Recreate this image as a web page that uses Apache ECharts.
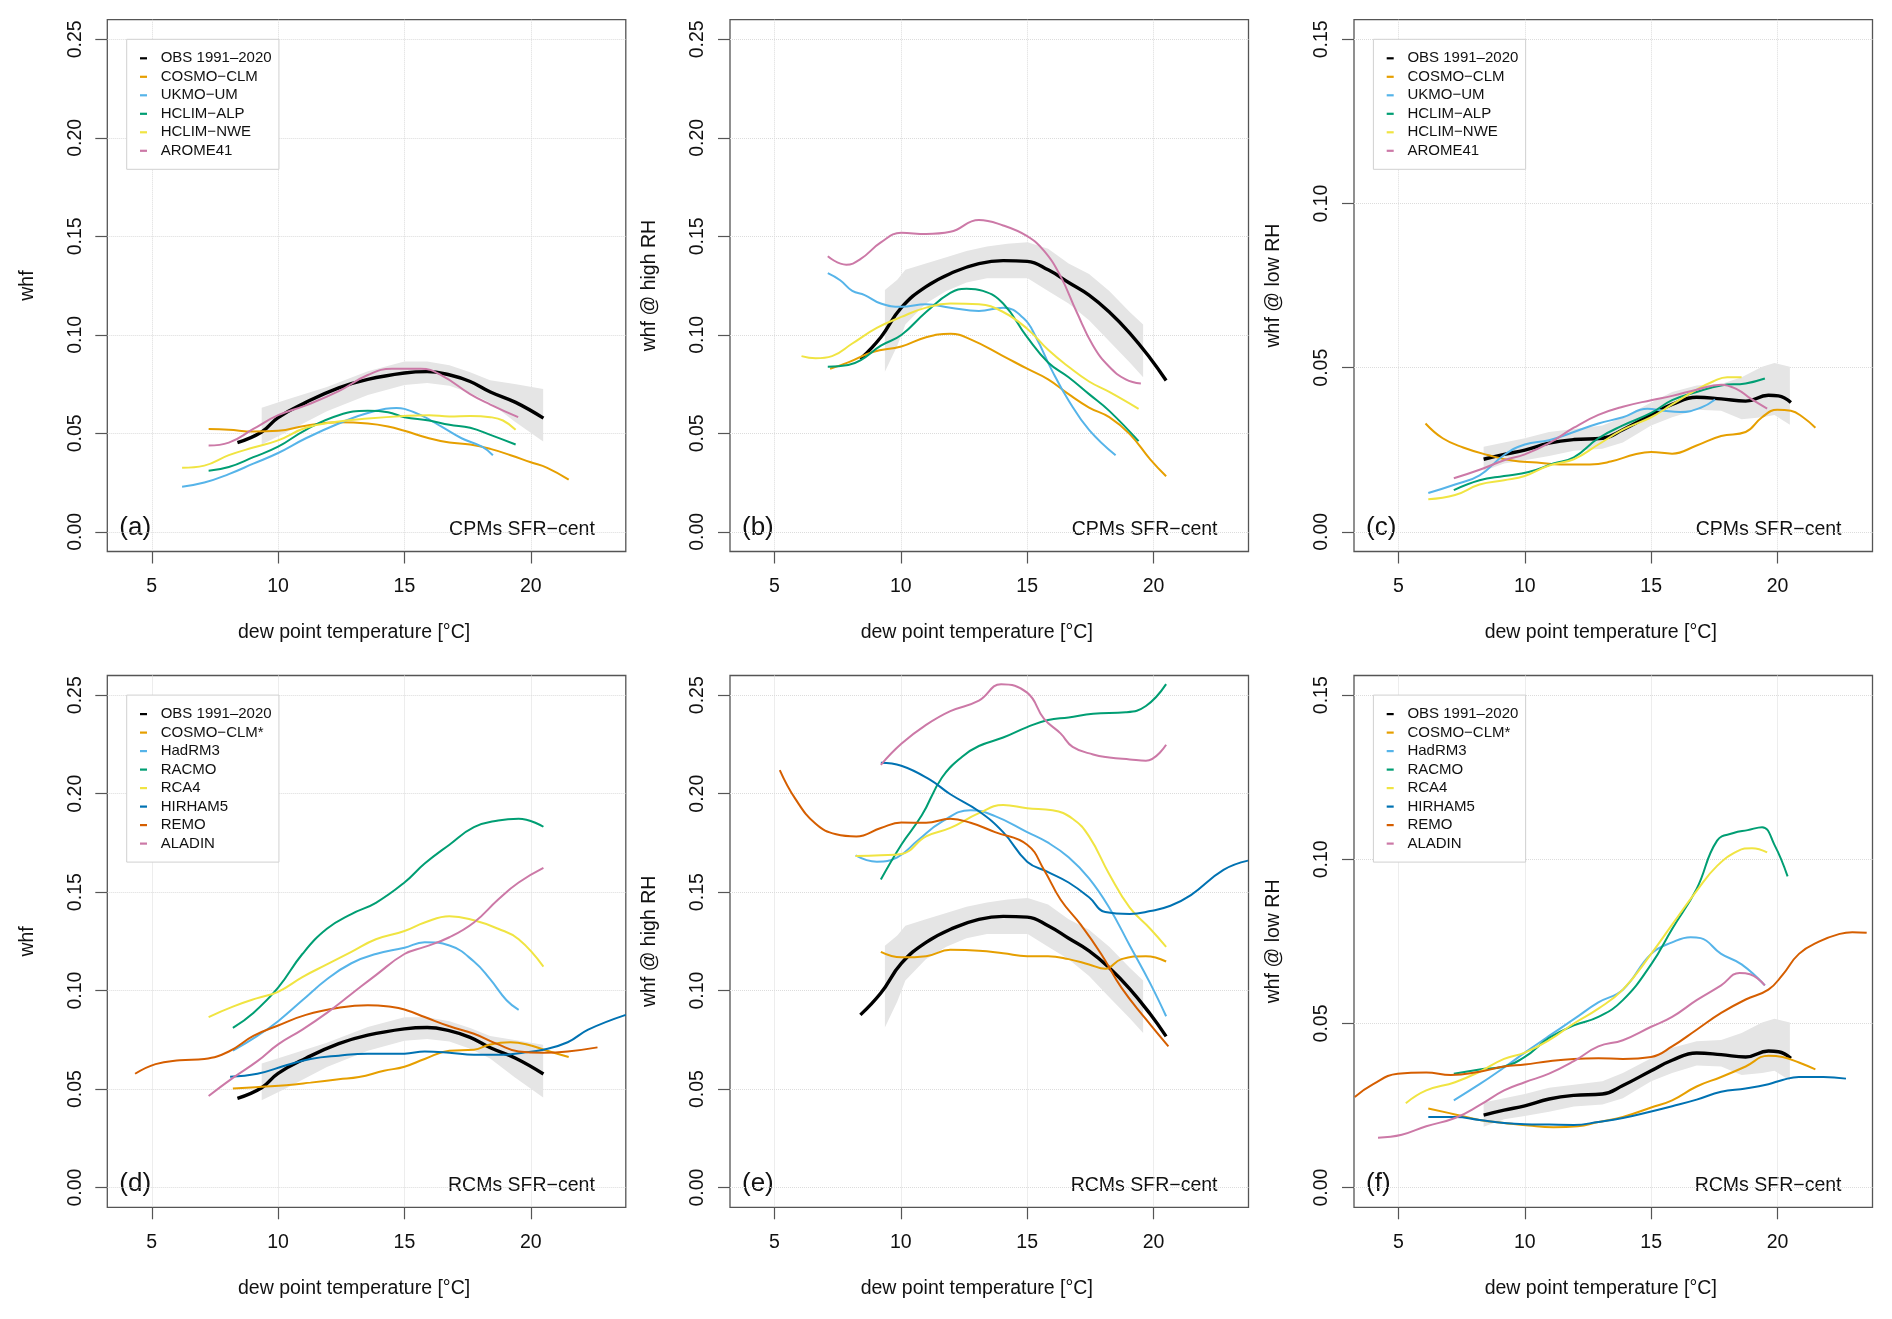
<!DOCTYPE html>
<html>
<head>
<meta charset="utf-8">
<script src="https://cdn.jsdelivr.net/npm/echarts@6/dist/echarts.min.js"></script>
<style>html,body{margin:0;padding:0;background:#fff}#c{width:1892px;height:1319px}</style>
</head>
<body>
<div id="c"></div>
<script>
// ---------- tick labels ----------
const xTicks = [5, 10, 15, 20];
const yTicksWide = [0, 0.05, 0.10, 0.15, 0.20, 0.25];
const yTicksNarrow = [0, 0.05, 0.10, 0.15];

// ---------- legend names ----------
const obsName = 'OBS 1991\u20132020';
const cpmNames = ['COSMO\u2212CLM', 'UKMO\u2212UM', 'HCLIM\u2212ALP', 'HCLIM\u2212NWE', 'AROME41'];
const rcmNames = ['COSMO\u2212CLM*', 'HadRM3', 'RACMO', 'RCA4', 'HIRHAM5', 'REMO', 'ALADIN'];

// ---------- observations (whf, all) ----------
const obsAll = [[8.39,.0453],[9.35,.0507],[10,.058],[11.1,.0657],[12.4,.0731],[13.55,.0774],[15,.0806],[15.9,.0813],[16.8,.0796],[17.6,.0763],[18.4,.071],[19.4,.0657],[20.5,.0577]];
const bandAllUpper = [[9.35,.063],[10.32,.067],[11.93,.0735],[13.55,.0815],[15,.0865],[15.9,.0865],[16.78,.0845],[17.6,.081],[18.39,.077],[19.36,.075],[20.49,.0725]];
const bandAllLower = [[9.35,.0443],[10.32,.0505],[11.93,.0612],[13.55,.0695],[15,.0745],[15.9,.0755],[16.78,.0742],[17.6,.0705],[18.39,.0655],[19.36,.056],[20.49,.0458]];
// ---------- observations (whf @ high RH) ----------
const obsHigh = [[8.4,.0877],[9.21,.0988],[10.02,.1138],[11,.1245],[12.12,.132],[13.09,.1362],[14.05,.1377],[15,.1373],[15.83,.133],[16.64,.1266],[17.45,.1202],[18.25,.1116],[19.06,.1009],[19.87,.0881],[20.5,.0768]];
const bandHighUpper = [[9.37,.1228],[9.86,.128],[10.18,.133],[10.99,.1362],[11.8,.1394],[12.6,.1426],[13.41,.1448],[14.22,.1463],[15.02,.147],[15.83,.1437],[16.64,.1362],[17.45,.1309],[18.25,.1223],[19.06,.1116],[19.59,.1052]];
const bandHighLower = [[9.37,.0813],[9.86,.0945],[10.18,.1052],[10.99,.1159],[11.8,.1223],[12.6,.1266],[13.41,.1287],[14.22,.1287],[15.02,.1287],[15.83,.1223],[16.64,.1159],[17.45,.1074],[18.25,.0967],[19.06,.086],[19.59,.0785]];
// ---------- observations (whf @ low RH) ----------
const obsLow = [[8.37,.0221],[9.18,.0236],[10,.0249],[10.96,.027],[11.94,.0281],[13.07,.0285],[13.88,.0311],[15,.0356],[15.83,.0388],[16.8,.041],[17.77,.0405],[18.74,.0398],[19.64,.0416],[20.04,.0414],[20.53,.0394]];
const bandLowUpper = [[8.37,.0259],[9.18,.0272],[10,.0285],[10.96,.0304],[11.94,.0313],[13.07,.0324],[13.88,.0349],[15,.0394],[15.83,.0426],[16.8,.0446],[17.77,.045],[18.58,.0471],[19.39,.0503],[19.88,.0514],[20.49,.0503]];
const bandLowLower = [[8.37,.0185],[9.18,.0208],[10,.0218],[10.96,.0231],[11.94,.0247],[13.07,.0253],[13.88,.0272],[15,.0324],[15.83,.0349],[16.8,.0372],[17.77,.0369],[18.58,.0343],[19.39,.0349],[19.88,.0356],[20.49,.0326]];

// ---------- (a) CPMs, whf ----------
const aCosmo = [[7.25,.0522],[8.05,.0518],[9.02,.0509],[10,.0513],[11.1,.0539],[12.4,.0556],[13.55,.055],[14.35,.0535],[15,.0513],[15.97,.0475],[16.78,.0453],[17.6,.0443],[18.4,.0421],[19.2,.0389],[20,.0353],[20.65,.0325],[21.5,.0265]];
const aUkmo = [[6.2,.0229],[7.08,.025],[8.05,.0293],[9.02,.0346],[10,.04],[11.1,.0475],[12.4,.055],[13.55,.0603],[14.68,.0629],[15,.0624],[15.65,.0592],[16.45,.0535],[17.26,.0475],[18.07,.0432],[18.5,.0389]];
const aHclimAlp = [[7.25,.031],[8.05,.0329],[9.02,.0379],[10,.0432],[11.1,.0518],[12.4,.0592],[13.55,.0614],[14.35,.0607],[15,.0582],[15.97,.0565],[16.78,.0543],[17.6,.0528],[18.4,.0492],[19.4,.0443]];
const aHclimNwe = [[6.2,.0325],[7.08,.0336],[8.05,.0389],[9.02,.0428],[10,.0464],[11.1,.0528],[12.4,.056],[13.55,.0575],[15,.0588],[15.97,.0592],[16.78,.0586],[17.6,.0588],[18.4,.0582],[18.9,.0565],[19.4,.0518]];
const aArome = [[7.25,.0438],[8.05,.0453],[9.02,.0522],[10,.0592],[11.1,.0642],[12.4,.0714],[13.55,.0796],[14.5,.0828],[15.65,.0828],[16.45,.0796],[17.6,.0699],[18.4,.0646],[19.5,.0582]];

// ---------- (b) CPMs, whf @ high RH ----------
const bCosmo = [[7.2,.0828],[7.92,.086],[8.89,.0913],[10.02,.0941],[11,.0988],[11.96,.1005],[12.76,.0977],[14.05,.0892],[15,.0828],[15.83,.0774],[16.64,.0699],[17.45,.0631],[18.25,.0582],[19.06,.0496],[19.87,.0368],[20.5,.0282]];
const bUkmo = [[7.11,.1313],[7.6,.1277],[8.08,.1223],[8.57,.1202],[9.21,.1159],[10.02,.1142],[11,.1155],[11.96,.1138],[13.09,.1121],[14.05,.1138],[14.86,.1084],[15.35,.0988],[15.99,.0817],[16.64,.0667],[17.45,.0518],[18.5,.0389]];
const bHclimAlp = [[7.11,.0838],[7.92,.0847],[8.4,.087],[9.21,.0945],[10.02,.0999],[11,.1116],[11.96,.1213],[12.6,.1234],[13.25,.1223],[14.05,.1159],[15,.0988],[15.83,.086],[16.64,.0785],[17.45,.0699],[18.25,.0614],[19.41,.046]];
const bHclimNwe = [[6.07,.0892],[6.63,.0881],[7.28,.0892],[8.08,.0956],[9.05,.1035],[10.02,.1091],[11,.1138],[11.96,.1159],[13.09,.1155],[14.05,.1116],[15,.1031],[15.83,.0924],[16.64,.0838],[17.45,.0763],[18.25,.071],[19.41,.0624]];
const bArome = [[7.11,.1399],[7.84,.1356],[8.4,.1384],[9.21,.1469],[10.02,.1518],[11,.1512],[11.96,.1523],[13.09,.1583],[14.05,.1555],[15,.1501],[15.67,.1426],[16.32,.1298],[16.96,.1116],[17.61,.0945],[18.25,.0838],[18.9,.0774],[19.5,.0753]];

// ---------- (c) CPMs, whf @ low RH ----------
const cCosmo = [[6.07,.033],[6.75,.0285],[7.56,.0257],[8.53,.0234],[9.5,.0217],[10.48,.0211],[11.45,.0205],[12.58,.0205],[13.4,.0214],[14.37,.0236],[15,.0243],[15.83,.0238],[16.8,.0263],[17.77,.0292],[18.74,.0304],[19.39,.0349],[19.99,.0372],[20.53,.0369],[21.01,.0349],[21.5,.0317]];
const cUkmo = [[6.18,.0118],[7.24,.0144],[8.21,.0172],[9.18,.0234],[10,.0266],[10.96,.0279],[11.94,.0304],[12.91,.033],[13.88,.0349],[14.85,.0375],[15.5,.0369],[16.15,.0365],[16.96,.0378],[17.53,.0403]];
const cHclimAlp = [[7.19,.0127],[8.21,.0157],[9.18,.017],[10.15,.0182],[11.13,.0208],[11.94,.0227],[12.91,.0285],[13.88,.0324],[15,.0362],[15.83,.0401],[16.8,.0426],[17.77,.0446],[18.74,.0452],[19.5,.0467]];
const cHclimNwe = [[6.18,.0099],[7.24,.0112],[8.21,.0144],[9.18,.0157],[10,.017],[10.96,.0202],[11.94,.0221],[12.91,.0266],[13.88,.0311],[15,.0349],[15.83,.0388],[16.8,.0433],[17.45,.0458],[18.01,.0471],[18.58,.0471]];
const cArome = [[7.19,.0163],[8.21,.0189],[9.18,.0218],[10,.0236],[10.96,.027],[11.94,.0317],[12.91,.0356],[13.88,.0381],[15,.0401],[15.83,.0414],[16.8,.0433],[17.77,.0448],[18.42,.0433],[18.91,.0407],[19.59,.0375]];

// ---------- (d) RCMs, whf ----------
const dCosmo = [[8.21,.0503],[9.35,.0512],[10.32,.052],[11.28,.0533],[12.4,.055],[13.2,.0561],[14.19,.0593],[15,.0614],[15.8,.0653],[16.78,.0695],[17.75,.07],[18.39,.0727],[19.2,.0738],[19.85,.0727],[20.65,.0695],[21.5,.0663]];
const dHadrm = [[8.21,.0695],[9.18,.077],[10,.0845],[10.96,.0951],[11.93,.1058],[12.9,.1139],[13.87,.1186],[15,.1218],[15.8,.1246],[16.78,.1229],[17.75,.1148],[18.39,.1058],[19.04,.0951],[19.52,.0902]];
const dRacmo = [[8.21,.0811],[9.02,.0887],[10,.1015],[10.96,.1186],[11.93,.1314],[12.9,.1389],[13.87,.1446],[15,.1549],[15.8,.1645],[16.78,.1741],[17.75,.183],[18.71,.1864],[19.52,.1873],[20.5,.1832]];
const dRca4 = [[7.25,.0866],[8.21,.0919],[9.18,.0962],[10,.0994],[10.96,.1069],[11.93,.1133],[12.9,.1197],[13.87,.1261],[15,.1303],[15.8,.1346],[16.78,.1378],[17.75,.1357],[18.71,.1314],[19.52,.1261],[20.5,.1122]];
const dHirham = [[8.1,.0563],[9.18,.0578],[10.32,.0621],[11.28,.0653],[12.4,.067],[13.55,.068],[15,.068],[15.8,.0691],[16.78,.0685],[17.75,.0674],[18.71,.0674],[19.68,.0685],[20.5,.07],[21.46,.0738],[22.27,.0802],[23.76,.0877]];
const dRemo = [[4.34,.0578],[5.15,.0627],[6.11,.0646],[7.08,.0653],[8.05,.0691],[9.02,.077],[10,.0823],[11.1,.0877],[12.4,.0913],[13.55,.0926],[14.52,.0917],[15,.0904],[15.8,.0866],[16.78,.0819],[17.75,.0781],[18.71,.0727],[19.52,.0691],[20.5,.0685],[21.46,.0691],[22.64,.0712]];
const dAladin = [[7.25,.0465],[8.21,.0557],[9.18,.0642],[10,.0727],[10.96,.0802],[11.93,.0887],[12.9,.0983],[13.87,.1079],[15,.1186],[15.8,.1222],[16.78,.1271],[17.75,.1346],[18.71,.1463],[19.52,.1549],[20.5,.1623]];

// ---------- (e) RCMs, whf @ high RH ----------
const eCosmo = [[9.21,.1197],[10.02,.1169],[11,.1175],[11.96,.1207],[13.09,.1203],[14.05,.119],[15,.1175],[15.83,.1175],[16.64,.116],[17.45,.1133],[18.09,.1111],[18.73,.116],[19.7,.1175],[20.5,.1148]];
const eHadrm = [[8.21,.1687],[9.05,.1655],[9.86,.1677],[10.67,.1762],[11.63,.1858],[12.76,.1916],[13.73,.1886],[15,.1805],[15.83,.1751],[16.64,.1677],[17.45,.157],[18.25,.1421],[19.06,.1229],[19.87,.1037],[20.5,.087]];
const eRacmo = [[9.21,.1564],[10.02,.1741],[10.83,.189],[11.63,.2082],[12.44,.2189],[13.09,.2242],[14.05,.2285],[15,.2338],[15.83,.2374],[16.64,.2387],[17.61,.2406],[18.9,.2413],[19.7,.2445],[20.5,.2556]];
const eRca4 = [[8.21,.1683],[9.21,.1687],[10.02,.1694],[11,.1783],[11.96,.1826],[13.09,.1901],[14.05,.1943],[15,.1926],[16,.1916],[16.8,.1873],[17.45,.1783],[18.25,.1591],[19.06,.1421],[19.87,.1314],[20.5,.1222]];
const eHirham = [[9.21,.2157],[10.02,.2142],[11.15,.2071],[11.96,.1997],[13.09,.1911],[14.05,.1805],[15,.1655],[15.83,.1602],[16.64,.1549],[17.45,.1474],[18.09,.1399],[19.06,.1389],[19.87,.1404],[20.67,.1431],[21.48,.1485],[22.77,.1613],[23.74,.166]];
const eRemo = [[5.21,.212],[5.82,.1975],[6.63,.1847],[7.44,.1794],[8.24,.1783],[9.21,.1826],[10.02,.1854],[11,.1852],[11.96,.1873],[12.76,.1852],[13.73,.1805],[15,.1741],[15.67,.1613],[16.32,.1463],[17.12,.1335],[17.93,.1186],[18.73,.1015],[19.7,.0855],[20.59,.0717]];
const eAladin = [[9.21,.2146],[10.02,.2253],[11,.2349],[11.96,.2419],[13.09,.2472],[13.97,.2556],[15,.2513],[15.67,.238],[16.32,.2306],[16.8,.2238],[17.61,.2199],[18.25,.2184],[19.06,.2174],[19.7,.2167],[20.5,.2248]];

// ---------- (f) RCMs, whf @ low RH ----------
const fCosmo = [[6.18,.0241],[7.24,.0223],[8.21,.0206],[9.18,.0197],[10.15,.0189],[11.13,.0184],[12.1,.0187],[12.91,.02],[13.88,.0215],[15,.0244],[15.83,.0266],[16.8,.0308],[17.77,.0337],[18.74,.0369],[19.64,.0402],[20.2,.0398],[20.85,.0381],[21.5,.036]];
const fHadrm = [[7.19,.0266],[8.21,.0315],[9.18,.0366],[10,.0411],[10.96,.0462],[11.94,.0513],[12.91,.0564],[13.88,.0603],[15,.0712],[15.83,.0747],[16.56,.0763],[16.96,.076],[17.77,.0712],[18.58,.068],[19.5,.0616]];
const fRacmo = [[7.19,.0347],[8.21,.036],[9.18,.0369],[10,.0398],[10.96,.0456],[11.94,.0494],[12.91,.052],[13.88,.0571],[15,.068],[15.83,.0788],[16.8,.091],[17.61,.1057],[18.26,.108],[18.82,.1089],[19.39,.1098],[19.88,.1044],[20.4,.0948]];
const fRca4 = [[5.29,.0257],[6.1,.0296],[7.24,.0321],[8.21,.0353],[9.18,.0392],[10,.0411],[10.96,.0449],[11.94,.05],[12.91,.0545],[13.88,.0603],[15,.0712],[15.83,.0801],[16.8,.0904],[17.61,.098],[18.42,.1025],[18.99,.1034],[19.59,.1021]];
const fHirham = [[6.18,.0215],[7.24,.0215],[8.21,.0206],[9.18,.0197],[10,.0193],[10.96,.0192],[11.94,.0191],[12.91,.02],[13.88,.0212],[15,.0232],[15.83,.0248],[16.8,.0268],[17.77,.0292],[18.74,.0302],[19.64,.0315],[20.2,.0328],[20.85,.0337],[21.82,.0337],[22.71,.0332]];
const fRemo = [[3.27,.0276],[4,.0315],[4.97,.0347],[6.1,.0351],[7.07,.0343],[8.21,.0353],[9.18,.0369],[10,.0375],[10.96,.0385],[11.94,.0392],[12.91,.0394],[13.88,.0392],[15,.0398],[15.83,.043],[16.8,.0481],[17.77,.0532],[18.74,.0573],[19.64,.0603],[20.2,.0648],[20.85,.0712],[21.66,.075],[22.47,.0773],[22.96,.0778],[23.53,.0776]];
const fAladin = [[4.19,.0152],[5.13,.0161],[6.1,.0187],[7.24,.0212],[8.21,.0251],[9.18,.0296],[10,.0321],[10.96,.0347],[11.94,.0385],[12.91,.043],[13.88,.0449],[15,.049],[15.83,.052],[16.8,.0571],[17.77,.0616],[18.5,.0654],[18.91,.065],[19.5,.0616]];

// ---------- styling ----------
const FONT = 'Liberation Sans, Arial, Helvetica, sans-serif';
const cpmColors = ['#E69F00', '#56B4E9', '#009E73', '#F0E442', '#CC79A7'];
const rcmColors = ['#E69F00', '#56B4E9', '#009E73', '#F0E442', '#0072B2', '#D55E00', '#CC79A7'];
const colLeft = [107.3, 730, 1354];
const rowTop = [19.7, 675.5];
const gridW = 518.5, gridH = 531.8;

const panels = [
  {letter:'(a)', tag:'CPMs SFR\u2212cent', yname:'whf', wide:true, obs:obsAll, up:bandAllUpper, lo:bandAllLower, names:cpmNames, colors:cpmColors, models:[aCosmo,aUkmo,aHclimAlp,aHclimNwe,aArome], legend:true},
  {letter:'(b)', tag:'CPMs SFR\u2212cent', yname:'whf @ high RH', wide:true, obs:obsHigh, up:bandHighUpper, lo:bandHighLower, names:cpmNames, colors:cpmColors, models:[bCosmo,bUkmo,bHclimAlp,bHclimNwe,bArome], legend:false},
  {letter:'(c)', tag:'CPMs SFR\u2212cent', yname:'whf @ low RH', wide:false, obs:obsLow, up:bandLowUpper, lo:bandLowLower, names:cpmNames, colors:cpmColors, models:[cCosmo,cUkmo,cHclimAlp,cHclimNwe,cArome], legend:true},
  {letter:'(d)', tag:'RCMs SFR\u2212cent', yname:'whf', wide:true, obs:obsAll, up:bandAllUpper, lo:bandAllLower, names:rcmNames, colors:rcmColors, models:[dCosmo,dHadrm,dRacmo,dRca4,dHirham,dRemo,dAladin], legend:true},
  {letter:'(e)', tag:'RCMs SFR\u2212cent', yname:'whf @ high RH', wide:true, obs:obsHigh, up:bandHighUpper, lo:bandHighLower, names:rcmNames, colors:rcmColors, models:[eCosmo,eHadrm,eRacmo,eRca4,eHirham,eRemo,eAladin], legend:false},
  {letter:'(f)', tag:'RCMs SFR\u2212cent', yname:'whf @ low RH', wide:false, obs:obsLow, up:bandLowUpper, lo:bandLowLower, names:rcmNames, colors:rcmColors, models:[fCosmo,fHadrm,fRacmo,fRca4,fHirham,fRemo,fAladin], legend:true}
];

const grid = [], xAxis = [], yAxis = [], series = [], legend = [], graphic = [];
panels.forEach((p, i) => {
  const L = colLeft[i % 3], T = rowTop[Math.floor(i / 3)];
  grid.push({left: L, top: T, width: gridW, height: gridH, show: true, borderColor: '#555', borderWidth: 1.3, backgroundColor: 'transparent', containLabel: false});
  xAxis.push({
    type: 'value', gridIndex: i, min: 3.24, max: 23.76, position: 'bottom',
    name: 'dew point temperature [\u00B0C]', nameLocation: 'middle', nameGap: 71,
    nameTextStyle: {fontFamily: FONT, fontSize: 19.5, color: '#111', padding: [0, 25, 0, 0]},
    axisLine: {show: false, onZero: false},
    axisTick: {show: true, inside: false, length: 12, customValues: xTicks, lineStyle: {color: '#555', width: 1.2}},
    axisLabel: {show: true, customValues: xTicks, margin: 25, fontFamily: FONT, fontSize: 19.5, color: '#111'},
    splitLine: {show: true, lineStyle: {color: '#dcdcdc', type: 'dotted', width: 1}}
  });
  const yt = p.wide ? yTicksWide : yTicksNarrow;
  yAxis.push({
    type: 'value', gridIndex: i, min: p.wide ? -0.01 : -0.006, max: p.wide ? 0.26 : 0.156, position: 'left',
    name: p.yname, nameLocation: 'middle', nameGap: 70, nameRotate: 90,
    nameTextStyle: {fontFamily: FONT, fontSize: 19.5, color: '#111'},
    axisLine: {show: false, onZero: false},
    axisTick: {show: true, inside: false, length: 12, customValues: yt, lineStyle: {color: '#555', width: 1.2}},
    axisLabel: {show: true, customValues: yt, rotate: 90, margin: 22, fontFamily: FONT, fontSize: 19.5, color: '#111', formatter: v => v.toFixed(2)},
    splitLine: {show: true, lineStyle: {color: '#dcdcdc', type: 'dotted', width: 1}}
  });
  // observational uncertainty band
  series.push({
    type: 'custom', xAxisIndex: i, yAxisIndex: i, silent: true, z: 1, clip: true,
    data: [p.up[0]],
    renderItem: (params, api) => {
      if (params.dataIndex !== 0) return null;
      const pts = p.up.map(d => api.coord(d)).concat(p.lo.slice().reverse().map(d => api.coord(d)));
      return {type: 'polygon', shape: {points: pts}, style: {fill: '#e5e5e5', stroke: null}};
    }
  });
  const mk = (name, data, color, width, z) => ({
    type: 'line', name, data, xAxisIndex: i, yAxisIndex: i,
    showSymbol: false, symbol: 'none', smooth: 0.45, clip: true,
    lineStyle: {color, width}, itemStyle: {color}, emphasis: {disabled: true}, z
  });
  series.push(mk(obsName, p.obs, '#000000', 3.4, 3));
  p.models.forEach((m, k) => series.push(mk(p.names[k], m, p.colors[k], 2, 4)));
  if (p.legend) {
    legend.push({
      orient: 'vertical', left: L + 19.4, top: T + 19.6,
      padding: [11.5, 7.3, 11, 13.3], itemWidth: 7, itemHeight: 2.2, icon: 'rect', itemGap: 3.5,
      selectedMode: false, borderColor: '#d0d0d0', borderWidth: 1, backgroundColor: '#ffffff',
      textStyle: {fontFamily: FONT, fontSize: 15, color: '#111', padding: [0, 0, 0, 8.7]},
      data: [obsName].concat(p.names)
    });
  }
  const y0 = T + gridH * ((p.wide ? 0.26 : 0.156) / (p.wide ? 0.27 : 0.162));
  graphic.push({type: 'text', left: L + 12, top: y0 - 16.5, silent: true,
    style: {text: p.letter, font: '26px ' + FONT, fill: '#111'}});
  graphic.push({type: 'text', right: 1892 - (L + gridW - 31), top: y0 - 12, silent: true,
    style: {text: p.tag, font: '19.5px ' + FONT, fill: '#111'}});
});

const chart = echarts.init(document.getElementById('c'), null, {renderer: 'canvas'});
chart.setOption({animation: false, backgroundColor: '#ffffff', grid, xAxis, yAxis, series, legend, graphic});
</script>
</body>
</html>
